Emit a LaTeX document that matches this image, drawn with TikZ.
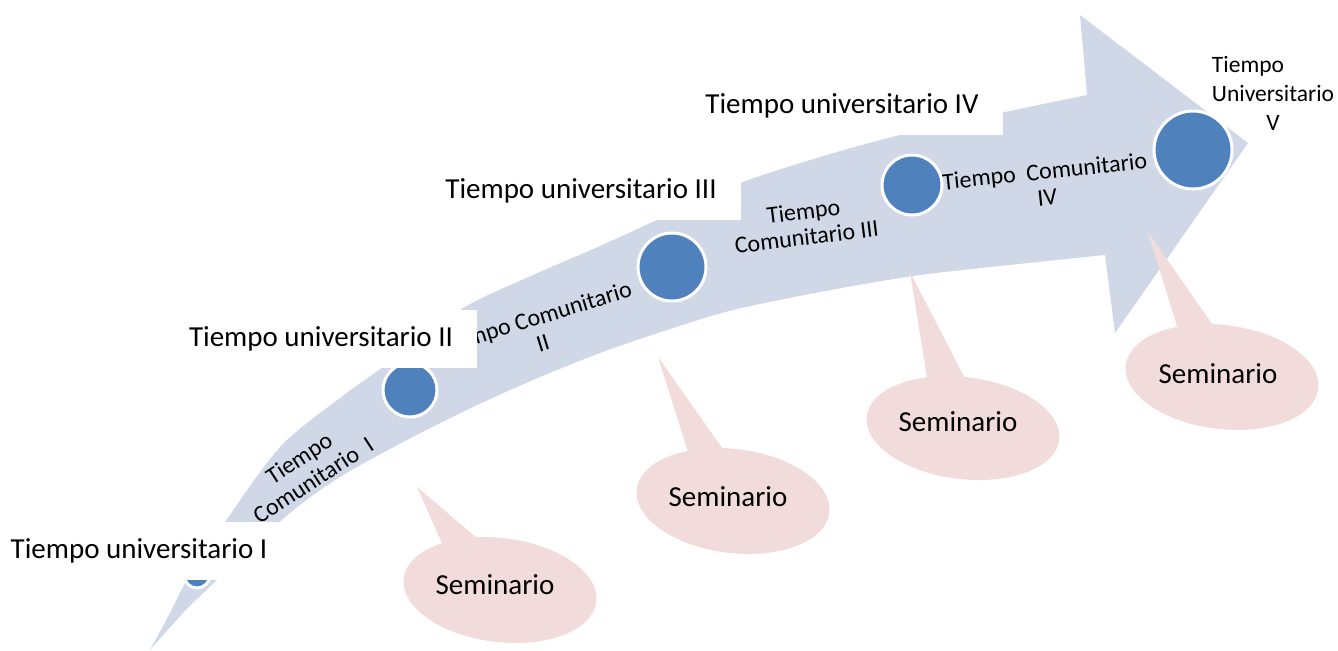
\documentclass[tikz,border=0pt]{standalone}
\usepackage{fontspec}
\setmainfont{Carlito}
\usepackage{tikz}
\usetikzlibrary{calc}

\definecolor{flecha}{RGB}{208,216,232}
\definecolor{azul}{RGB}{79,129,189}
\definecolor{rosa}{RGB}{242,220,219}

\begin{document}
\begin{tikzpicture}[x=0.5pt,y=-0.5pt,
		hito/.style={circle,fill=azul,draw=white,line width=1.5pt,inner sep=0pt},
		univ/.style={fill=white,inner xsep=12pt,minimum height=29pt,font=\fontsize{14.5}{17}\selectfont},
		comu/.style={align=center,font=\fontsize{12}{13}\selectfont},
		sem/.style={fill=rosa},
		semtexto/.style={font=\fontsize{14.5}{17}\selectfont}]
	
	% 固定画布大小
	\useasboundingbox (0,0) rectangle (1338,650);
	
	% 绘制弯曲箭头
	\fill[flecha] plot[smooth] coordinates {(150,650) (183,613) (217,580) (290,513) (340,477) (407,440) (473,407) (533,380) (600,353) (667,330) (733,310) (820,292) (913,276) (1000,266) (1105,255)}
		-- (1115,333) -- (1248,143) -- (1080,15) -- (1087,95)
		-- plot[smooth] coordinates {(1087,95) (1000,113) (900,135) (820,157) (740,183) (670,214) (600,246) (533,275) (463,308) (400,355) (340,398) (280,447) (225,522) (187,580) (170,613) (150,650)} -- cycle;
	
	% 绘制圆点
	\node[hito,minimum size=13pt] (h1) at (197,575) {};
	\node[hito,minimum size=27pt] (h2) at (410,390) {};
	\node[hito,minimum size=34pt] (h3) at (672,267) {};
	\node[hito,minimum size=30pt] (h4) at (912,185) {};
	\node[hito,minimum size=39pt] (h5) at (1193,150) {};
	
	% 社区时间文字
	\node[comu,rotate=33] (c1) at (306,469) {Tiempo\\Comunitario~ I};
	\node[comu,rotate=17] (c2) at (539,330) {Tiempo Comunitario\\II};
	\node[comu,rotate=7] (c3) at (805,224) {Tiempo\\Comunitario III};
	\node[comu,rotate=6] (c4) at (1046,184) {Tiempo~ Comunitario\\IV};
	
	% 大学时间标签
	\node[univ] (u1) at (139,551) {Tiempo universitario I};
	\node[univ] (u2) at (321,339) {Tiempo universitario II};
	\node[univ] (u3) at (581,191) {Tiempo universitario III};
	\node[univ] (u4) at (842,106) {Tiempo universitario IV};
	\node[font=\fontsize{11.75}{14.5}\selectfont,inner sep=0pt] (u5) at (1273,96)
		{\begin{tabular}{@{}l@{}}Tiempo\\Universitario\\\multicolumn{1}{@{}c@{}}{V}\end{tabular}};
	
	% 研讨会气泡
	\coordinate (e1) at (500,590);
	\coordinate (p1) at (417,487);
	\fill[sem] (p1) -- ($(e1)+(-51,-31)$) -- ($(e1)+(-8,-39)$) -- cycle;
	\fill[sem,rotate around={-7:(e1)}] (e1) ellipse [x radius=97,y radius=52];
	\node[semtexto] (s1) at ($(e1)+(-5,-5)$) {Seminario};
	
	\coordinate (e2) at (733,501);
	\coordinate (p2) at (658,357);
	\fill[sem] (p2) -- ($(e2)+(-38,-27)$) -- ($(e2)+(6,-29)$) -- cycle;
	\fill[sem,rotate around={-7:(e2)}] (e2) ellipse [x radius=97,y radius=52];
	\node[semtexto] (s2) at ($(e2)+(-5,-4)$) {Seminario};
	
	\coordinate (e3) at (963,428);
	\coordinate (p3) at (910,272);
	\fill[sem] (p3) -- ($(e3)+(-33,-32)$) -- ($(e3)+(11,-32)$) -- cycle;
	\fill[sem,rotate around={-7:(e3)}] (e3) ellipse [x radius=97,y radius=51];
	\node[semtexto] (s3) at ($(e3)+(-5,-6)$) {Seminario};
	
	\coordinate (e4) at (1222,377);
	\coordinate (p4) at (1148,232);
	\fill[sem] (p4) -- ($(e4)+(-39,-31)$) -- ($(e4)+(4,-33)$) -- cycle;
	\fill[sem,rotate around={-7:(e4)}] (e4) ellipse [x radius=97,y radius=52];
	\node[semtexto] (s4) at ($(e4)+(-4,-3)$) {Seminario};
	
\end{tikzpicture}
\end{document}
